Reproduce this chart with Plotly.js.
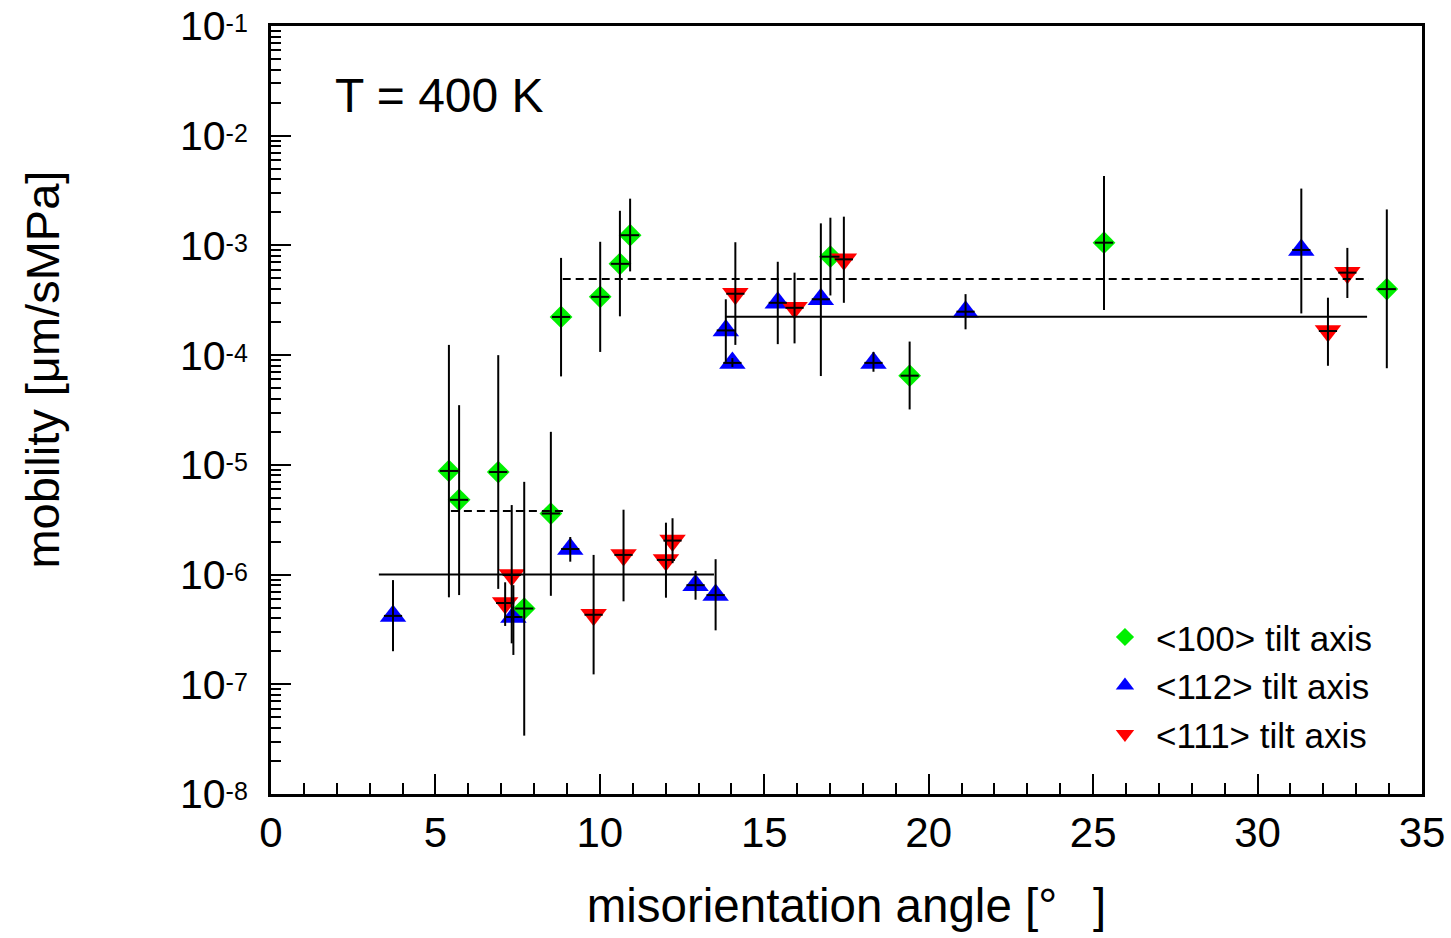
<!DOCTYPE html>
<html>
<head>
<meta charset="utf-8">
<script src="https://cdn.plot.ly/plotly-3.0.1.min.js"></script>
<style>html,body{margin:0;padding:0;background:#fff;}#chart{width:1451px;height:938px;}</style>
</head>
<body>
<div id="chart"></div>
<script>
// <100> tilt axis
const x100 = [5.41, 5.72, 6.91, 7.70, 8.51, 8.82, 10.01, 10.61, 10.92, 17.01, 19.42, 25.33, 33.93];
const y100 = [8.8e-6, 4.8e-6, 8.6e-6, 4.9e-7, 3.6e-6, 2.23e-4, 3.4e-4, 6.8e-4, 1.24e-3, 7.9e-4, 6.5e-5, 1.06e-3, 4.0e-4];
const hi100 = [1.24e-4, 3.5e-5, 1.0e-4, 7.0e-6, 2.0e-5, 7.7e-4, 1.08e-3, 2.07e-3, 2.67e-3, 1.79e-3, 1.33e-4, 4.3e-3, 2.13e-3];
const lo100 = [6.2e-7, 6.5e-7, 7.4e-7, 3.4e-8, 6.4e-7, 6.4e-5, 1.07e-4, 2.26e-4, 5.8e-4, 3.5e-4, 3.2e-5, 2.58e-4, 7.6e-5];

// <112> tilt axis
const x112 = [3.71, 7.37, 9.10, 12.91, 13.52, 13.83, 14.03, 15.41, 16.72, 18.32, 21.12, 31.33];
const y112 = [4.2e-7, 4.1e-7, 1.71e-6, 8.0e-7, 6.5e-7, 1.68e-4, 8.5e-5, 3.0e-4, 3.23e-4, 8.5e-5, 2.49e-4, 9.1e-4];
const hi112 = [8.9e-7, 8.0e-7, 2.2e-6, 1.08e-6, 1.38e-6, 3.23e-4, 9.4e-5, 7.1e-4, 1.59e-3, 1.07e-4, 3.6e-4, 3.3e-3];
const lo112 = [2.0e-7, 1.85e-7, 1.31e-6, 5.9e-7, 3.1e-7, 8.7e-5, 7.8e-5, 1.26e-4, 6.45e-5, 7.06e-5, 1.72e-4, 2.4e-4];

// <111> tilt axis
const x111 = [7.12, 7.32, 9.81, 10.72, 12.01, 12.21, 14.12, 15.92, 17.42, 32.14, 32.73];
const y111 = [5.5e-7, 9.9e-7, 4.3e-7, 1.51e-6, 1.36e-6, 2.04e-6, 3.63e-4, 2.7e-4, 7.47e-4, 1.66e-4, 5.65e-4];
const hi111 = [8.5e-7, 4.3e-6, 1.51e-6, 3.9e-6, 2.97e-6, 3.26e-6, 1.07e-3, 5.65e-4, 1.83e-3, 3.34e-4, 9.5e-4];
const lo111 = [3.4e-7, 2.36e-7, 1.23e-7, 5.7e-7, 6.15e-7, 1.27e-6, 1.24e-4, 1.28e-4, 3.0e-4, 8.0e-5, 3.32e-4];

// average mobility levels (horizontal segments)
const levelSolidLowX = [3.28, 13.47];
const levelSolidLowY = [1.0e-6, 1.0e-6];
const levelDashLowX = [5.47, 9.01];
const levelDashLowY = [3.8e-6, 3.8e-6];
const levelDashHighX = [8.87, 33.38];
const levelDashHighY = [4.95e-4, 4.95e-4];
const levelSolidHighX = [13.83, 33.33];
const levelSolidHighY = [2.24e-4, 2.24e-4];

// tick labels
const yTickVals = [1e-8, 1e-7, 1e-6, 1e-5, 1e-4, 1e-3, 1e-2, 1e-1];
const yTickExp = ['-8', '-7', '-6', '-5', '-4', '-3', '-2', '-1'];
const yTickText = yTickExp.map(e => '10<span style="font-size:25px;baseline-shift:8px">' + e + '</span>');

const FONT = 'Liberation Sans, Arial, sans-serif';
const GREEN = '#00f000', BLUE = '#0000ff', RED = '#ff0000';

function plus(a, b) { return a.map((v, i) => v - b[i]); }

function markerTrace(x, y, color, symbol, size) {
  return {
    type: 'scatter', mode: 'markers', x: x, y: y, showlegend: false,
    marker: { symbol: symbol, size: size, color: color, line: { width: 0 } },
    hoverinfo: 'x+y'
  };
}
function legendTrace(name, color, symbol, size, rank) {
  return {
    type: 'scatter', mode: 'markers', x: [null], y: [null], name: name, legendrank: rank,
    marker: { symbol: symbol, size: size, color: color, line: { width: 0 } }, hoverinfo: 'skip'
  };
}
function errTrace(x, y, hi, lo) {
  return {
    type: 'scatter', mode: 'markers', x: x, y: y, showlegend: false, hoverinfo: 'skip',
    marker: { symbol: 'line-ew', size: 13, color: 'black', line: { width: 2, color: 'black' } },
    error_y: { type: 'data', symmetric: false, array: plus(hi, y), arrayminus: plus(y, lo),
               color: 'black', thickness: 2, width: 0 }
  };
}
function levelTrace(x, y, dash) {
  return { type: 'scatter', mode: 'lines', x: x, y: y, showlegend: false, hoverinfo: 'skip',
           line: { color: 'black', width: 2, dash: dash } };
}

const data = [
  markerTrace(x112, y112, BLUE, 'triangle-up', 23),
  markerTrace(x100, y100, GREEN, 'diamond', 17.5),
  markerTrace(x111, y111, RED, 'triangle-down', 23),
  levelTrace(levelSolidLowX, levelSolidLowY, 'solid'),
  levelTrace(levelDashLowX, levelDashLowY, '8px,5px'),
  levelTrace(levelDashHighX, levelDashHighY, '8px,5px'),
  levelTrace(levelSolidHighX, levelSolidHighY, 'solid'),
  errTrace(x112, y112, hi112, lo112),
  errTrace(x100, y100, hi100, lo100),
  errTrace(x111, y111, hi111, lo111),
  legendTrace('&lt;100&gt; tilt axis', GREEN, 'diamond', 14, 1),
  legendTrace('&lt;112&gt; tilt axis', BLUE, 'triangle-up', 16, 2),
  legendTrace('&lt;111&gt; tilt axis', RED, 'triangle-down', 16, 3)
];

const layout = {
  width: 1451, height: 938,
  margin: { l: 271, r: 29, t: 26, b: 144 },
  paper_bgcolor: 'white', plot_bgcolor: 'white',
  font: { family: FONT, color: 'black', size: 40 },
  showlegend: true,
  legend: {
    x: 0.715, y: 0.2425, xanchor: 'left', yanchor: 'top',
    font: { family: FONT, size: 35, color: 'black' },
    bgcolor: 'rgba(0,0,0,0)', borderwidth: 0, itemwidth: 52
  },
  xaxis: {
    range: [0, 35], dtick: 5, tick0: 0,
    showline: true, linewidth: 3, linecolor: 'black', mirror: true,
    ticks: 'inside', ticklen: 20, tickwidth: 2, tickcolor: 'black',
    minor: { dtick: 1, ticks: 'inside', ticklen: 11, tickwidth: 2, tickcolor: 'black' },
    showgrid: false, zeroline: false,
    tickfont: { family: FONT, size: 42 }, ticklabelstandoff: 0, ticklabeloverflow: 'allow',
    title: { text: 'misorientation angle [°\u00a0\u00a0\u2009]', font: { family: FONT, size: 47.5 }, standoff: 34 }
  },
  yaxis: {
    type: 'log', range: [-8.0005, -0.9995],
    tickmode: 'array', tickvals: yTickVals, ticktext: yTickText,
    showline: true, linewidth: 3, linecolor: 'black', mirror: true,
    ticks: 'inside', ticklen: 20, tickwidth: 2, tickcolor: 'black',
    minor: { dtick: 'D1', ticks: 'inside', ticklen: 10, tickwidth: 2, tickcolor: 'black' },
    showgrid: false, zeroline: false,
    tickfont: { family: FONT, size: 41 }, ticklabelstandoff: 12, ticklabeloverflow: 'allow'
  },
  annotations: [{
    text: 'T = 400 K', xref: 'paper', yref: 'paper', x: 0.1468, y: 0.910,
    xanchor: 'center', yanchor: 'middle', showarrow: false,
    font: { family: FONT, size: 48, color: 'black' }
  }, {
    text: 'mobility [μm/sMPa]', xref: 'paper', yref: 'paper', x: -0.1985, y: 0.552,
    xanchor: 'center', yanchor: 'middle', textangle: -90, showarrow: false,
    font: { family: FONT, size: 47, color: 'black' }
  }]
};

Plotly.newPlot('chart', data, layout, { displayModeBar: false, staticPlot: true });
</script>
</body>
</html>
